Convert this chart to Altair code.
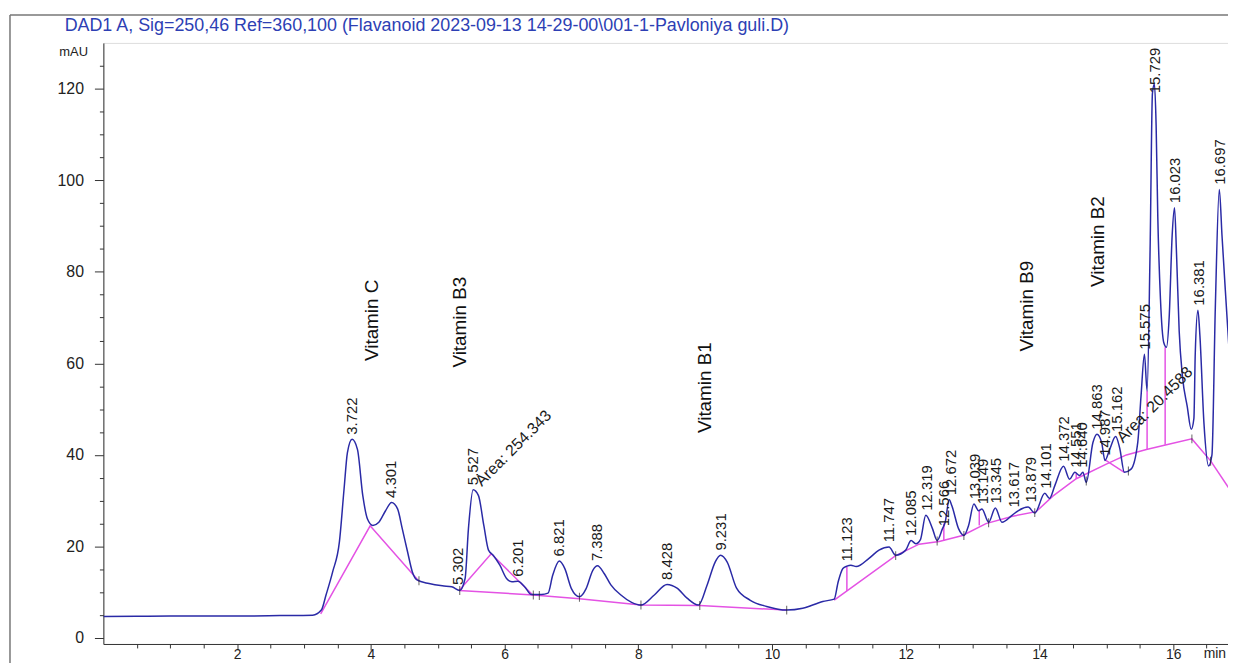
import altair as alt
import pandas as pd

# ---------------- data ----------------
title_text = "DAD1 A, Sig=250,46 Ref=360,100 (Flavanoid 2023-09-13 14-29-00\\001-1-Pavloniya guli.D)"

trace_t = [0.0, 0.5, 1.0, 2.0, 2.64, 3.13, 3.26, 3.33, 3.43, 3.53, 3.60, 3.65, 3.72, 3.80, 3.88,
           3.95, 4.03, 4.12, 4.22, 4.31, 4.40, 4.47, 4.55, 4.62, 4.69, 4.87, 5.07, 5.21, 5.33,
           5.41, 5.46, 5.53, 5.61, 5.69, 5.76, 5.83, 5.93, 6.03, 6.11, 6.20, 6.30, 6.40, 6.55,
           6.65, 6.72, 6.82, 6.90, 7.00, 7.12, 7.22, 7.32, 7.39, 7.49, 7.59, 7.74, 7.90, 8.04,
           8.24, 8.43, 8.58, 8.73, 8.90, 9.03, 9.15, 9.23, 9.33, 9.47, 9.67, 9.92, 10.22, 10.46,
           10.76, 10.93, 10.99, 11.06, 11.12, 11.18, 11.26, 11.45, 11.60, 11.75, 11.85, 12.00,
           12.08, 12.15, 12.22, 12.30, 12.40, 12.47, 12.55, 12.59, 12.65, 12.69, 12.79, 12.87,
           12.94, 13.02, 13.09, 13.14, 13.24, 13.34, 13.44, 13.59, 13.68, 13.83, 13.93, 14.08,
           14.15, 14.23, 14.36, 14.45, 14.53, 14.60, 14.65, 14.70, 14.80, 14.86, 14.93, 14.98,
           15.05, 15.14, 15.20, 15.27, 15.37, 15.47, 15.52, 15.57, 15.61, 15.655, 15.69, 15.72,
           15.745, 15.77, 15.81, 15.86, 15.90, 15.94, 15.985, 16.02, 16.05, 16.09, 16.14, 16.21,
           16.27, 16.31, 16.33, 16.37, 16.40, 16.46, 16.53, 16.58, 16.63, 16.69, 16.73, 16.78,
           16.84]
trace_v = [4.7, 4.75, 4.8, 4.8, 4.9, 5.0, 6.1, 9.4, 14.5, 21.0, 32.6, 40.5, 43.4, 41.2, 31.1,
           26.0, 24.6, 25.3, 27.8, 29.6, 28.2, 23.9, 18.8, 14.5, 12.7, 11.9, 11.4, 11.2, 10.4,
           13.0, 23.9, 32.4, 31.1, 24.6, 19.2, 18.1, 15.9, 13.0, 12.3, 12.4, 11.2, 9.5, 9.5,
           9.8, 13.7, 16.8, 15.2, 10.8, 9.0, 10.8, 14.8, 15.8, 14.1, 11.6, 9.4, 7.8, 7.2,
           9.4, 11.7, 10.9, 8.7, 7.2, 11.6, 16.6, 18.1, 16.6, 10.9, 8.3, 6.9, 6.1, 6.5,
           8.0, 8.5, 12.3, 15.2, 15.7, 15.9, 15.6, 17.4, 19.2, 19.9, 18.1, 19.2,
           21.3, 20.6, 21.5, 26.8, 23.9, 21.3, 23.9, 25.3, 30.2, 28.9, 23.9, 22.4,
           24.6, 29.3, 27.8, 28.2, 25.3, 28.4, 25.3, 26.8, 27.8, 28.6, 27.3, 31.6,
           30.5, 33.3, 37.5, 34.7, 36.2, 35.5, 36.2, 34.0, 42.7, 44.5, 42.7, 38.8,
           41.2, 44.0, 41.5, 36.2, 36.9, 42.7, 53.0, 62.0, 54.0, 85.0, 119.0, 121.0,
           112.0, 92.0, 74.0, 64.5, 63.5, 70.0, 88.0, 94.0, 84.0, 67.0, 57.0, 50.6,
           45.6, 48.0, 62.0, 71.6, 66.0, 47.0, 37.6, 40.0, 72.0, 98.0, 88.0, 76.0,
           62.0]

# integration baselines (magenta), one id per segment
base_seg = ["a"] * 3 + ["b"] * 3 + ["c"] * 6 + ["d"] * 16 + ["e"] * 2
base_t = [3.25, 3.99, 4.72,
          5.32, 5.80, 6.43,
          5.32, 6.43, 7.12, 8.04, 8.92, 10.22,
          10.93, 11.85, 12.2, 12.5, 12.85, 13.2, 13.6, 13.95, 14.2, 14.55, 15.0, 15.3, 15.6,
          15.9, 16.28, 16.56,
          14.97, 15.27]
base_v = [5.3, 24.5, 12.4,
          10.4, 18.4, 9.3,
          10.4, 9.4, 8.6, 7.2, 7.1, 6.1,
          8.3, 18.0, 20.5, 21.1, 22.4, 25.0, 26.6, 27.6, 31.0, 34.8, 38.0, 40.0, 41.2,
          42.2, 43.5, 38.7,
          39.0, 36.2]
# extension of the last baseline segment to the right edge
base_tail_t = [16.56, 16.84]
base_tail_v = [38.7, 32.6]

# vertical drop lines (magenta)
drop_t = [11.12, 12.57, 13.10, 14.55, 15.61, 15.88]
drop_top = [15.7, 25.0, 28.0, 36.0, 54.0, 63.5]
drop_bot = [10.3, 21.2, 24.6, 34.8, 41.2, 42.2]

# small integration tick marks
mark_t = [4.72, 5.33, 6.43, 6.52, 7.12, 8.04, 8.92, 10.22, 11.85, 12.47, 12.87, 13.24,
          13.93, 14.70, 15.33, 16.28, 16.56]
mark_v = [12.5, 10.4, 9.4, 9.3, 8.9, 7.2, 7.1, 6.1, 18.0, 21.2, 22.4, 25.2,
          27.4, 34.3, 36.5, 43.5, 38.6]

# retention-time labels and the height they sit on
peak_labels = ["3.722", "4.301", "5.302", "5.527", "6.201", "6.821", "7.388", "8.428", "9.231",
               "11.123", "11.747", "12.085", "12.319", "12.566", "12.672", "13.039", "13.149",
               "13.345", "13.617", "13.879", "14.101", "14.372", "14.551", "14.640", "14.863",
               "14.987", "15.162", "15.575", "15.729", "16.023", "16.381", "16.697"]
peak_heights = [43.4, 29.6, 10.6, 32.4, 12.4, 16.8, 15.8, 11.7, 18.1,
                15.7, 19.9, 21.3, 26.8, 23.4, 30.2, 29.3, 28.2,
                28.4, 27.5, 28.6, 31.6, 37.5, 36.2, 36.2, 44.5,
                38.8, 44.0, 62.0, 118.0, 94.0, 71.6, 98.0]

area_labels = ["Area: 254.343", "Area: 20.4588"]
area_t = [5.66, 15.25]
area_v = [33.0, 42.5]

vit_names = ["Vitamin C", "Vitamin B3", "Vitamin B1", "Vitamin B9", "Vitamin B2"]
vit_t = [4.02, 5.34, 9.0, 13.81, 14.87]
vit_v = [69.4, 69.0, 54.7, 72.5, 86.6]

x_ticks = [0.5 * i for i in range(1, 34)]
y_ticks = [5 * i for i in range(0, 26)]

# ---------------- chart ----------------
W, H = 1132, 605
FONT = "Liberation Sans"
BLUE = "#2a2aa6"
MAGENTA = "#e452e4"

xscale = alt.Scale(domain=[0, 16.82], nice=False, zero=False)
yscale = alt.Scale(domain=[-1.3, 130], nice=False, zero=False)

xaxis = alt.Axis(values=x_ticks,
                 labelExpr="datum.value % 2 === 0 && datum.value > 0 ? '' + datum.value : ''",
                 tickSize={"condition": {"test": "datum.value % 2 === 0", "value": 6}, "value": 4},
                 labelPadding=-2, grid=False, domainColor="#333", tickColor="#333",
                 labelFont=FONT, labelFontSize=14, labelColor="#222", labelFlush=False,
                 title="min", titleFont=FONT, titleFontSize=14, titleFontWeight="normal",
                 titleColor="#222", titleX=1107, titleY=10, titleAlign="left",
                 titleBaseline="middle", titleAngle=0)
yaxis = alt.Axis(values=y_ticks,
                 labelExpr="datum.value % 20 === 0 ? '' + datum.value : ''",
                 tickSize={"condition": {"test": "datum.value % 20 === 0", "value": 9}, "value": 4},
                 labelPadding=11, grid=False, domainColor="#333", tickColor="#333",
                 labelFont=FONT, labelFontSize=16, labelColor="#222",
                 title="mAU", titleFont=FONT, titleFontSize=13, titleFontWeight="normal",
                 titleColor="#222", titleAngle=0, titleX=-16, titleY=9, titleAlign="right",
                 titleBaseline="middle")


def X(field="t"):
    return alt.X(f"{field}:Q", scale=xscale, axis=xaxis)


def Y(field="v"):
    return alt.Y(f"{field}:Q", scale=yscale, axis=yaxis)


df_trace = pd.DataFrame({"t": trace_t, "v": trace_v, "i": range(len(trace_t))})
df_base = pd.DataFrame({"seg": base_seg, "t": base_t, "v": base_v, "i": range(len(base_t))})
df_tail = pd.DataFrame({"t": base_tail_t, "v": base_tail_v})
df_drop = pd.DataFrame({"t": drop_t, "v": drop_top, "v2": drop_bot})
df_marks = pd.DataFrame({"t": mark_t, "v": mark_v})
df_peaks = pd.DataFrame({"label": peak_labels,
                         "t": [float(s) for s in peak_labels],
                         "v": [h + 1.0 for h in peak_heights]})
df_area = pd.DataFrame({"label": area_labels, "t": area_t, "v": area_v})
df_vit = pd.DataFrame({"label": vit_names, "t": vit_t, "v": vit_v})
df_one = pd.DataFrame({"label": [title_text]})

baseline = alt.Chart(df_base).mark_line(color=MAGENTA, strokeWidth=1.5, clip=True).encode(
    x=X(), y=Y(), detail="seg:N", order="i:Q")
tail = alt.Chart(df_tail).mark_line(color=MAGENTA, strokeWidth=1.5, clip=True).encode(x=X(), y=Y())
drops = alt.Chart(df_drop).mark_rule(color=MAGENTA, strokeWidth=1.5).encode(
    x=X(), y=Y(), y2="v2:Q")
trace = alt.Chart(df_trace).mark_line(color=BLUE, strokeWidth=1.5, interpolate="monotone",
                                      clip=True).encode(x=X(), y=Y(), order="i:Q")
ticks = alt.Chart(df_marks).mark_tick(color="#222", orient="vertical", size=9,
                                      thickness=1).encode(x=X(), y=Y())
peak_text = alt.Chart(df_peaks).mark_text(angle=270, align="left", baseline="middle",
                                          font=FONT, fontSize=15, color="#1a1a1a").encode(
    x=X(), y=Y(), text="label:N")
area_text = alt.Chart(df_area).mark_text(angle=315, align="left", baseline="alphabetic",
                                         font=FONT, fontSize=16, color="#1a1a1a").encode(
    x=X(), y=Y(), text="label:N")
vit_text = alt.Chart(df_vit).mark_text(angle=270, align="center", baseline="middle",
                                       font=FONT, fontSize=19, color="#111").encode(
    x=X(), y=Y(), text="label:N")
title = alt.Chart(df_one).mark_text(align="left", baseline="middle", font=FONT, fontSize=18,
                                    color="#2d3fb4").encode(
    x=alt.value(-39), y=alt.value(-17), text="label:N")
frame_left = alt.Chart(df_one).mark_rule(color="#777", strokeWidth=1.5).encode(
    x=alt.value(-94), y=alt.value(-28), y2=alt.value(H + 40))
frame_top = alt.Chart(df_one).mark_rule(color="#777", strokeWidth=1.5).encode(
    x=alt.value(-94), x2=alt.value(W + 10), y=alt.value(-28))

chart = alt.layer(
    baseline, tail, drops, trace, ticks, peak_text, area_text, vit_text, title,
    frame_left, frame_top
).properties(
    width=W, height=H,
    autosize=alt.AutoSizeParams(type="none"),
    padding={"left": 96, "top": 33, "right": 0, "bottom": 17},
).configure_view(stroke=None).configure(background="white")

chart.save("out.html", embed_options={"renderer": "svg", "actions": False})
